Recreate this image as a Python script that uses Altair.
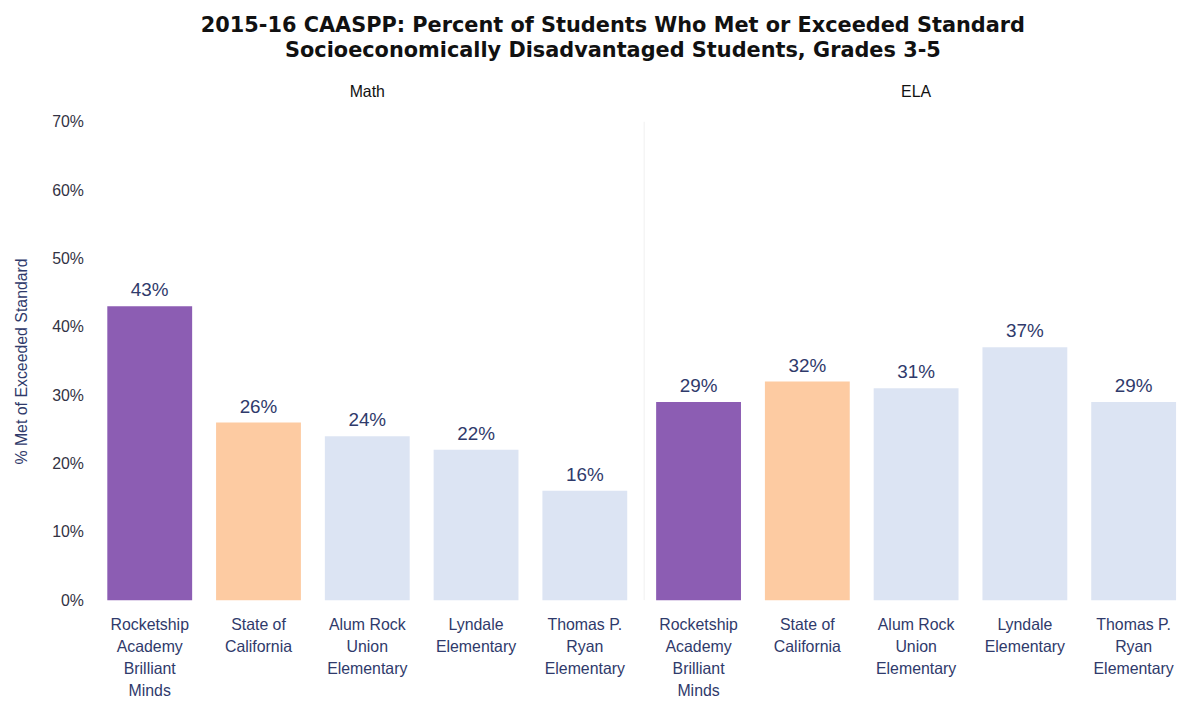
import altair as alt
import pandas as pd

subjects = ["Math", "ELA"]
schools = [
    "Rocketship Academy Brilliant Minds",
    "State of California",
    "Alum Rock Union Elementary",
    "Lyndale Elementary",
    "Thomas P. Ryan Elementary",
]
school_groups = ["Rocketship", "State", "District", "District", "District"]
math_values = [0.43, 0.26, 0.24, 0.22, 0.16]
ela_values = [0.29, 0.32, 0.31, 0.37, 0.29]

rows = []
for subj, vals in zip(subjects, [math_values, ela_values]):
    for s, g, v in zip(schools, school_groups, vals):
        rows.append({"subject": subj, "school": s, "group": g, "value": v})
df = pd.DataFrame(rows)

label_expr = (
    "datum.value == 'Rocketship Academy Brilliant Minds' ? ['Rocketship','Academy','Brilliant','Minds'] : "
    "datum.value == 'State of California' ? ['State of','California'] : "
    "datum.value == 'Alum Rock Union Elementary' ? ['Alum Rock','Union','Elementary'] : "
    "datum.value == 'Lyndale Elementary' ? ['Lyndale','Elementary'] : "
    "['Thomas P.','Ryan','Elementary']"
)

navy = "#2F3A6B"
font = "Liberation Sans"

base = alt.Chart().encode(
    x=alt.X(
        "school:N",
        sort=schools,
        title=None,
        scale=alt.Scale(paddingInner=0.22, paddingOuter=0.11),
        axis=alt.Axis(
            labelAngle=0,
            labelExpr=label_expr,
            labelFontSize=16,
            labelLineHeight=22,
            labelColor=navy,
            labelFont=font,
            labelPadding=16,
            ticks=False,
            domain=False,
            labelBaseline="top",
        ),
    ),
    y=alt.Y(
        "value:Q",
        title="% Met of Exceeded Standard",
        scale=alt.Scale(domain=[0, 0.7], nice=False),
        axis=alt.Axis(
            format=".0%",
            values=[0, 0.1, 0.2, 0.3, 0.4, 0.5, 0.6, 0.7],
            grid=False,
            ticks=False,
            domain=False,
            labelFontSize=16,
            labelColor="#333344",
            labelFont=font,
            labelPadding=12,
            titleFontSize=16,
            titleFontWeight="normal",
            titleColor=navy,
            titleFont=font,
            titlePadding=22,
        ),
    ),
)

bars = base.mark_bar().encode(
    color=alt.Color(
        "group:N",
        scale=alt.Scale(
            domain=["Rocketship", "State", "District"],
            range=["#8C5DB3", "#FDCBA2", "#DCE4F3"],
        ),
        legend=None,
    )
)

text = base.mark_text(
    dy=-16, fontSize=19, color=navy, font=font
).encode(text=alt.Text("value:Q", format=".0%"))

separator = (
    alt.Chart()
    .mark_rule(color="#F0F0F0", strokeWidth=1)
    .encode(x=alt.value(0), y=alt.value(0), y2=alt.value(482))
    .transform_filter(
        (alt.datum.subject == subjects[1]) & (alt.datum.school == schools[0])
    )
)

chart = (
    alt.layer(separator, bars, text, data=df)
    .properties(width=548, height=482)
    .facet(
        column=alt.Column(
            "subject:N",
            sort=subjects,
            header=alt.Header(
                title=None,
                labelFontSize=16,
                labelFont=font,
                labelColor="#111111",
                labelPadding=21,
            ),
        ),
        spacing=4,
    )
    .properties(
        background="white",
        title=alt.TitleParams(
            text=[
                "2015-16 CAASPP: Percent of Students Who Met or Exceeded Standard",
                "Socioeconomically Disadvantaged Students, Grades 3-5",
            ],
            font="DejaVu Sans",
            fontSize=21,
            fontWeight="bold",
            color="#111111",
            anchor="middle",
            frame="bounds",
            dx=12,
            dy=-4,
            lineHeight=25,
            offset=19,
        ),
    )
    .configure_view(strokeWidth=0, stroke="transparent")
)

chart.save("out.html", embed_options={"renderer": "svg", "actions": False})
